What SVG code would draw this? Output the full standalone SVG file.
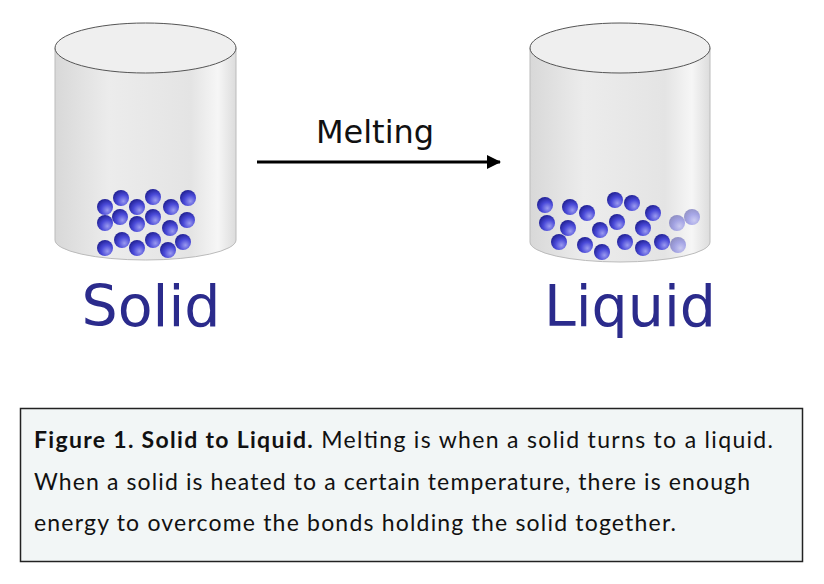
<svg xmlns="http://www.w3.org/2000/svg" width="824" height="584" viewBox="0 0 824 584">
<defs>
<linearGradient id="body" x1="0" x2="1" y1="0" y2="0">
<stop offset="0" stop-color="#d8d8d8"/><stop offset="0.3" stop-color="#ececec"/><stop offset="0.75" stop-color="#e4e4e4"/><stop offset="0.9" stop-color="#f6f6f6"/><stop offset="1" stop-color="#dcdcdc"/>
</linearGradient>
<radialGradient id="ball" cx="0.65" cy="0.7" r="0.75">
<stop offset="0" stop-color="#9a9af0"/><stop offset="0.5" stop-color="#4a4ad8"/><stop offset="1" stop-color="#1e1e90"/>
</radialGradient>
<marker id="arr" markerWidth="14" markerHeight="14" refX="13" refY="7" orient="auto" markerUnits="userSpaceOnUse"><path d="M0,0 L14,7 L0,14 Z" fill="#000"/></marker>
</defs>
<style>
.cyl{fill:url(#body);stroke:#bbb;stroke-width:1}
.top{fill:#efefef;stroke:#555;stroke-width:1}
.b{fill:url(#ball)}
.f{fill:url(#ball);opacity:0.45}
.lbl{font-family:"DejaVu Sans",sans-serif;font-size:57px;fill:#2b2b8c}
.cap{font-family:Lato,"Open Sans",sans-serif;font-size:23px;fill:#111}
</style>
<rect width="824" height="584" fill="#fff"/>
<g id="solid">
<path class="cyl" d="M55,48 L55,240 A90.5,20 0 0 0 236,240 L236,48 Z"/>
<ellipse class="top" cx="145.5" cy="48" rx="90.5" ry="25"/>
<g>
<circle class="b" cx="105" cy="207" r="8"/><circle class="b" cx="121" cy="198" r="8"/><circle class="b" cx="137" cy="207" r="8"/><circle class="b" cx="153" cy="197" r="8"/><circle class="b" cx="171" cy="207" r="8"/><circle class="b" cx="188" cy="198" r="8"/>
<circle class="b" cx="105" cy="223" r="8"/><circle class="b" cx="120" cy="217" r="8"/><circle class="b" cx="137" cy="224" r="8"/><circle class="b" cx="153" cy="217" r="8"/><circle class="b" cx="170" cy="228" r="8"/><circle class="b" cx="187" cy="220" r="8"/>
<circle class="b" cx="105" cy="248" r="8"/><circle class="b" cx="122" cy="240" r="8"/><circle class="b" cx="137" cy="248" r="8"/><circle class="b" cx="153" cy="240" r="8"/><circle class="b" cx="168" cy="250" r="8"/><circle class="b" cx="183" cy="242" r="8"/>
</g>
<text class="lbl" x="151" y="326" text-anchor="middle">Solid</text>
</g>
<g id="liquid">
<path class="cyl" d="M530,48 L530,242 A90,20 0 0 0 710,242 L710,48 Z"/>
<ellipse class="top" cx="620" cy="48" rx="90" ry="25"/>
<g>
<circle class="b" cx="545" cy="205" r="8"/><circle class="b" cx="570" cy="207" r="8"/><circle class="b" cx="587" cy="213" r="8"/><circle class="b" cx="615" cy="200" r="8"/><circle class="b" cx="632" cy="203" r="8"/><circle class="b" cx="653" cy="213" r="8"/><circle class="f" cx="692" cy="217" r="8"/>
<circle class="b" cx="547" cy="223" r="8"/><circle class="b" cx="568" cy="228" r="8"/><circle class="b" cx="600" cy="230" r="8"/><circle class="b" cx="617" cy="222" r="8"/><circle class="b" cx="643" cy="228" r="8"/><circle class="f" cx="677" cy="223" r="8"/>
<circle class="b" cx="559" cy="242" r="8"/><circle class="b" cx="585" cy="245" r="8"/><circle class="b" cx="602" cy="252" r="8"/><circle class="b" cx="625" cy="242" r="8"/><circle class="b" cx="643" cy="248" r="8"/><circle class="b" cx="662" cy="242" r="8"/><circle class="f" cx="678" cy="245" r="8"/>
</g>
<text class="lbl" x="630" y="326" text-anchor="middle">Liquid</text>
</g>
<g id="connectors">
<line x1="257" y1="162" x2="500" y2="162" stroke="#000" stroke-width="3" marker-end="url(#arr)"/>
<text x="375" y="143" text-anchor="middle" font-family="DejaVu Sans,sans-serif" font-size="32" fill="#111">Melting</text>
</g>
<g id="caption">
<rect x="20.5" y="408.5" width="782" height="153" fill="#f2f6f6" stroke="#222" stroke-width="1.5"/>
<text class="cap" x="34" y="448" textLength="739" lengthAdjust="spacing"><tspan font-weight="bold">Figure 1. Solid to Liquid.</tspan> Melting is when a solid turns to a liquid.</text>
<text class="cap" x="34" y="490" textLength="716" lengthAdjust="spacing">When a solid is heated to a certain temperature, there is enough</text>
<text class="cap" x="34" y="531" textLength="642" lengthAdjust="spacing">energy to overcome the bonds holding the solid together.</text>
</g>
</svg>
